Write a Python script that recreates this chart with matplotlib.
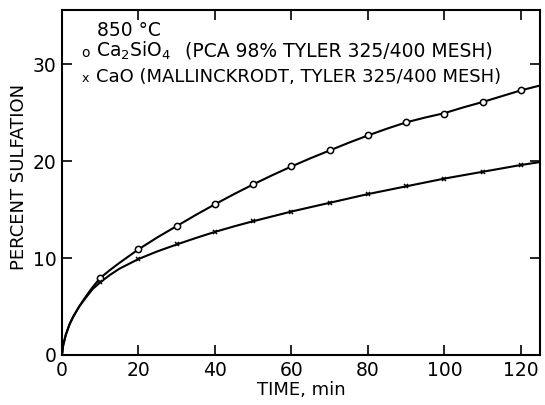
import numpy as np
import matplotlib.pyplot as plt

# measured points (markers)
t_pts = [10, 20, 30, 40, 50, 60, 70, 80, 90, 100, 110, 120]
silicate_pts = [7.95, 10.9, 13.3, 15.6, 17.6, 19.5, 21.1, 22.7, 24.0, 24.9, 26.1, 27.3]
cao_pts = [7.5, 9.9, 11.4, 12.7, 13.8, 14.8, 15.7, 16.6, 17.4, 18.2, 18.9, 19.6]

# smooth curves
t_curve = [0, 0.3, 1, 2, 3, 4.5, 6, 8, 10, 12.5, 15, 17.5, 20, 25, 30, 35, 40, 45,
           50, 55, 60, 65, 70, 75, 80, 85, 90, 95, 100, 105, 110, 115, 120, 125]
silicate_curve = [0, 1.0, 2.1, 3.2, 4.0, 5.0, 5.9, 7.0, 7.95, 8.75, 9.5, 10.2, 10.9,
                  12.15, 13.3, 14.45, 15.55, 16.6, 17.6, 18.55, 19.45, 20.3, 21.1, 21.9,
                  22.65, 23.35, 24.0, 24.5, 24.95, 25.55, 26.1, 26.7, 27.3, 27.8]
cao_curve = [0, 1.0, 2.1, 3.2, 4.0, 5.0, 5.8, 6.8, 7.5, 8.25, 8.9, 9.4, 9.9,
             10.7, 11.4, 12.07, 12.7, 13.27, 13.8, 14.3, 14.8, 15.25, 15.7, 16.15,
             16.6, 17.0, 17.4, 17.8, 18.2, 18.55, 18.9, 19.25, 19.6, 19.9]

plt.rcParams['font.family'] = ['DejaVu Sans']

fig = plt.figure(figsize=(5.45, 4.05), dpi=100)
ax = fig.add_axes([0.1138, 0.1235, 0.877, 0.852])

ax.plot(t_curve, silicate_curve, color="black", linewidth=1.5)
ax.plot(t_curve, cao_curve, color="black", linewidth=1.5)
ax.plot(t_pts, silicate_pts, "o", mfc="white", mec="black", ms=4.5, mew=1.1)
ax.plot(t_pts, cao_pts, "x", color="black", ms=3.5, mew=1.1)

ax.set_xlim(0, 125)
ax.set_ylim(0, 35.6)
ax.set_xticks([0, 20, 40, 60, 80, 100, 120])
ax.set_yticks([0, 10, 20, 30])
ax.tick_params(direction="in", length=7, width=1.2, labelsize=13.5, top=True, right=True, pad=4)
ax.set_xticklabels(["0", "20", "40", "60", "80", "100", "120"])
ax.set_yticklabels(["0", "10", "20", "30"])
for s in ax.spines.values():
    s.set_linewidth(1.5)

ax.set_xlabel("TIME, min", fontsize=13, labelpad=1)
ax.set_ylabel("PERCENT SULFATION", fontsize=13, labelpad=4)
ax.yaxis.set_label_coords(-0.072, 0.515)

fs = 13
fig.text(97 / 545, 1 - 30 / 405, "850 °C", fontsize=13.5, va="center", ha="left")
fig.text(81 / 545, 1 - 53 / 405, "o", fontsize=10, va="center", ha="left")
fig.text(96 / 545, 1 - 51 / 405, r"Ca$_2$SiO$_4$", fontsize=13.5, va="center", ha="left")
fig.text(185 / 545, 1 - 51 / 405, "(PCA 98% TYLER 325/400 MESH)", fontsize=13.5,
         va="center", ha="left")
fig.text(82 / 545, 1 - 79 / 405, "x", fontsize=9, va="center", ha="left")
fig.text(96 / 545, 1 - 77 / 405, "CaO (MALLINCKRODT, TYLER 325/400 MESH)", fontsize=fs,
         va="center", ha="left")

fig.savefig("out.png", dpi=100)
